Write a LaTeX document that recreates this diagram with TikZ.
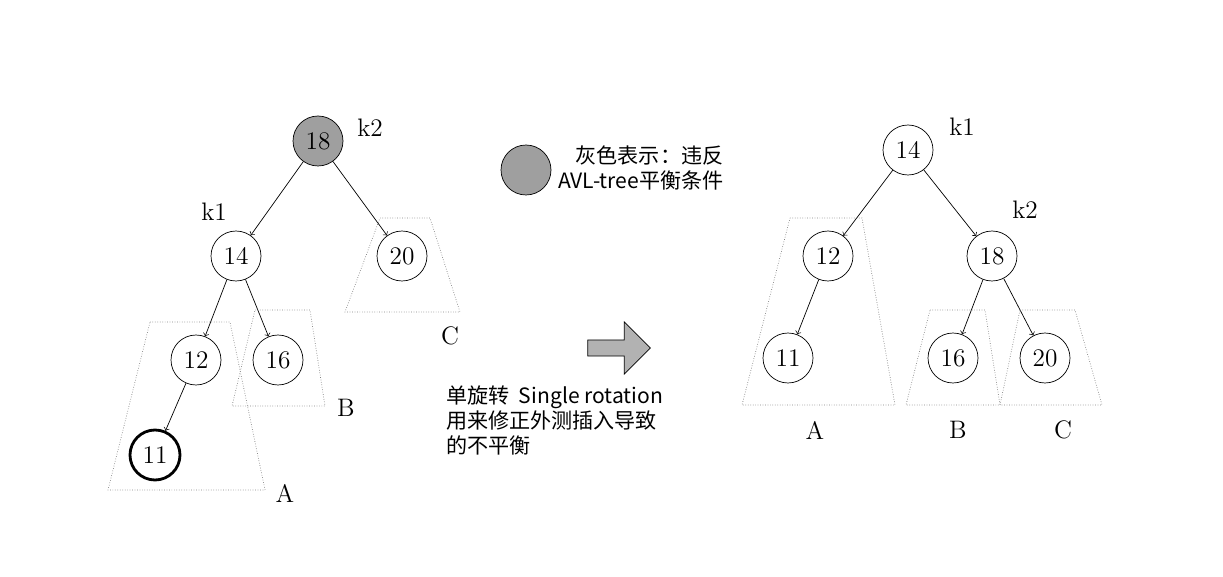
\documentclass[tikz,border=0pt]{standalone}
\usepackage{fontspec}
\newfontfamily\cjk{Noto Sans CJK SC}
\usetikzlibrary{shapes.arrows}

\begin{document}
\begin{tikzpicture}[x=0.02cm,y=-0.02cm,
    key/.style={circle, draw, thin, minimum size=1cm, inner sep=0pt, font=\Large},
    bad/.style={key, fill=gray!75},
    lbl/.style={font=\Large},
    edge/.style={-to, thin},
    sub/.style={draw=gray, densely dotted, thin}]

    \useasboundingbox (0,0) rectangle (1223,577);

    %% before rotation
    \node[bad] (L18) at (318,141) {18};
    \node[lbl] (Lk2) at (370,128) {k2};
    \node[key] (L14) at (236,256) {14};
    \node[lbl] (Lk1) at (214,212) {k1};
    \node[key] (L20) at (402,256) {20};
    \node[key] (L12) at (196,360) {12};
    \node[key] (L16) at (278,360) {16};
    \node[key, line width=1.6pt] (L11) at (155,455) {11};

    \draw[edge] (L18) -- (L14);
    \draw[edge] (L18) -- (L20);
    \draw[edge] (L14) -- (L12);
    \draw[edge] (L14) -- (L16);
    \draw[edge] (L12) -- (L11);

    \draw[sub] (380,218) -- (430,218) -- (460,312) -- (345,312) -- cycle;
    \draw[sub] (255,310) -- (310,310) -- (325,406) -- (232,406) -- cycle;
    \draw[sub] (150,322) -- (230,322) -- (265,490) -- (108,490) -- cycle;
    \node[lbl] (LC) at (450,336) {C};
    \node[lbl] (LB) at (346,408) {B};
    \node[lbl] (LA) at (285,493) {A};

    %% legend
    \node[bad] (legend) at (526,170) {};
    \node[anchor=west, font=\cjk\large] (legtext) at (552,171)
        {\begin{tabular}{@{}r@{}}灰色表示：违反\\AVL-tree平衡条件\end{tabular}};

    %% rotation arrow
    \node[single arrow, draw, fill=gray!60, minimum width=1.04cm, single arrow head extend=0.24cm,
          minimum height=1.25cm, inner sep=0.1cm] (rot) at (615,348) {};
    \node[anchor=north west, font=\cjk\large, align=left] (rottext) at (440,380)
        {单旋转\ \ Single rotation\\用来修正外测插入导致\\的不平衡};

    %% after rotation
    \node[key] (R14) at (908,150) {14};
    \node[lbl] (Rk1) at (962,127) {k1};
    \node[key] (R12) at (828,256) {12};
    \node[key] (R18) at (992,256) {18};
    \node[lbl] (Rk2) at (1025,210) {k2};
    \node[key] (R11) at (788,358) {11};
    \node[key] (R16) at (953,358) {16};
    \node[key] (R20) at (1045,358) {20};

    \draw[edge] (R14) -- (R12);
    \draw[edge] (R14) -- (R18);
    \draw[edge] (R12) -- (R11);
    \draw[edge] (R18) -- (R16);
    \draw[edge] (R18) -- (R20);

    \draw[sub] (790,218) -- (862,218) -- (895,405) -- (742,405) -- cycle;
    \draw[sub] (930,310) -- (985,310) -- (1000,405) -- (906,405) -- cycle;
    \draw[sub] (1020,310) -- (1075,310) -- (1102,405) -- (1000,405) -- cycle;
    \node[lbl] (RA) at (815,430) {A};
    \node[lbl] (RB) at (958,430) {B};
    \node[lbl] (RC) at (1063,430) {C};

\end{tikzpicture}
\end{document}
